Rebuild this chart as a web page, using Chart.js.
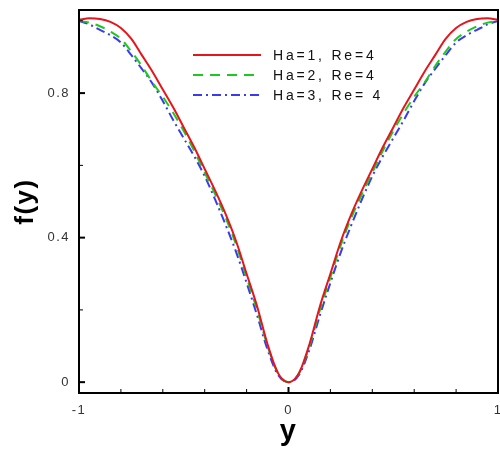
<!DOCTYPE html>
<html>
<head>
<meta charset="utf-8">
<script src="https://cdn.jsdelivr.net/npm/chart.js@4.4.1/dist/chart.umd.min.js"></script>
<style>
  html, body { margin: 0; padding: 0; background: #ffffff; }
  #wrap { width: 500px; height: 450px; }
</style>
</head>
<body>
<div id="wrap"><canvas id="c" width="500" height="450"></canvas></div>
<script>
// Transverse coordinate y across the channel
const yPos = [-1, -0.95, -0.9, -0.85, -0.8, -0.75, -0.7, -0.65, -0.6, -0.55, -0.5,
              -0.45, -0.4, -0.35, -0.3, -0.25, -0.2, -0.15, -0.1, -0.05, 0,
              0.05, 0.1, 0.15, 0.2, 0.25, 0.3, 0.35, 0.4, 0.45, 0.5,
              0.55, 0.6, 0.65, 0.7, 0.75, 0.8, 0.85, 0.9, 0.95, 1];

// Profiles f(y) for the three Hartmann numbers (Re = 4)
const fHa1 = [1.003, 1.007, 1.005, 0.997, 0.98, 0.95, 0.905, 0.86, 0.81, 0.76, 0.705,
              0.65, 0.59, 0.53, 0.465, 0.39, 0.30, 0.21, 0.105, 0.025, 0,
              0.025, 0.105, 0.21, 0.30, 0.39, 0.465, 0.53, 0.59, 0.65, 0.705,
              0.76, 0.81, 0.86, 0.905, 0.95, 0.98, 0.997, 1.005, 1.007, 1.003];
const fHa2 = [1.0, 0.995, 0.985, 0.97, 0.95, 0.915, 0.875, 0.83, 0.79, 0.745, 0.695,
              0.64, 0.58, 0.52, 0.455, 0.38, 0.29, 0.20, 0.10, 0.025, 0,
              0.025, 0.10, 0.20, 0.29, 0.38, 0.455, 0.52, 0.58, 0.64, 0.695,
              0.745, 0.79, 0.83, 0.875, 0.915, 0.95, 0.97, 0.985, 0.995, 1.0];
const fHa3 = [1.0, 0.99, 0.975, 0.96, 0.94, 0.905, 0.867, 0.827, 0.778, 0.725, 0.675,
              0.625, 0.57, 0.505, 0.435, 0.36, 0.275, 0.185, 0.09, 0.02, 0,
              0.02, 0.09, 0.185, 0.275, 0.36, 0.435, 0.505, 0.57, 0.625, 0.675,
              0.725, 0.778, 0.827, 0.867, 0.905, 0.94, 0.96, 0.975, 0.99, 1.0];

const seriesLabels = ['Ha=1, Re=4', 'Ha=2, Re=4', 'Ha=3, Re= 4'];

const xMajor = [-1, 0, 1];
const xMinor = [-0.8, -0.6, -0.4, -0.2, 0.2, 0.4, 0.6, 0.8];
const yMajor = [0, 0.4, 0.8];
const yMinor = [0.2, 0.6, 1.0];

const toPoints = (vals) => yPos.map((y, i) => ({ x: y, y: vals[i] }));

const FONT = '"Liberation Sans", Arial, sans-serif';

// Slightly spread lettering for the axis text
const spacingPlugin = {
  id: 'spacing',
  beforeDraw(chart) { chart.ctx.letterSpacing = '1.5px'; }
};

// Frame, inward ticks and the in-plot legend
const framePlugin = {
  id: 'frame',
  afterDraw(chart) {
    const { ctx, chartArea: a, scales } = chart;
    ctx.save();
    ctx.letterSpacing = '0px';
    ctx.strokeStyle = '#000';
    ctx.lineWidth = 2;
    ctx.strokeRect(a.left, a.top, a.right - a.left, a.bottom - a.top);

    const tick = (x1, y1, x2, y2, w) => {
      ctx.lineWidth = w;
      ctx.beginPath();
      ctx.moveTo(x1, y1);
      ctx.lineTo(x2, y2);
      ctx.stroke();
    };
    xMajor.forEach(v => { const px = scales.x.getPixelForValue(v); tick(px, a.bottom, px, a.bottom - 6, 2); });
    xMinor.forEach(v => { const px = scales.x.getPixelForValue(v); tick(px, a.bottom, px, a.bottom - 4, 1); });
    yMajor.forEach(v => { const py = scales.y.getPixelForValue(v); tick(a.left, py, a.left + 6, py, 2); });
    yMinor.forEach(v => { const py = scales.y.getPixelForValue(v); tick(a.left, py, a.left + 4, py, 1); });

    // legend
    const lx0 = 193, lx1 = 261, tx = 273;
    const rows = [55, 75, 95];
    ctx.font = '14px ' + FONT;
    ctx.textBaseline = 'middle';
    ctx.fillStyle = '#111';
    chart.data.datasets.forEach((ds, i) => {
      ctx.strokeStyle = ds.borderColor;
      ctx.lineWidth = ds.borderWidth;
      ctx.setLineDash(ds.borderDash || []);
      ctx.beginPath();
      ctx.moveTo(lx0, rows[i]);
      ctx.lineTo(lx1, rows[i]);
      ctx.stroke();
      ctx.setLineDash([]);
      ctx.letterSpacing = '2.8px';
      ctx.fillText(ds.label, tx, rows[i] + 1);
      ctx.letterSpacing = '0px';
    });
    ctx.restore();
  }
};

const noPad = (s) => { s.paddingTop = 0; s.paddingBottom = 0; s.paddingLeft = 0; s.paddingRight = 0; };

new Chart(document.getElementById('c'), {
  type: 'scatter',
  data: {
    datasets: [
      { label: seriesLabels[0], data: toPoints(fHa1), borderColor: '#e8141c', borderWidth: 2, showLine: true, pointRadius: 0, cubicInterpolationMode: 'monotone' },
      { label: seriesLabels[1], data: toPoints(fHa2), borderColor: '#1ec81e', borderWidth: 2, borderDash: [10, 7], showLine: true, pointRadius: 0, cubicInterpolationMode: 'monotone' },
      { label: seriesLabels[2], data: toPoints(fHa3), borderColor: '#3a3af0', borderWidth: 2, borderDash: [9, 4, 2, 4], showLine: true, pointRadius: 0, cubicInterpolationMode: 'monotone' }
    ]
  },
  options: {
    responsive: false,
    animation: false,
    devicePixelRatio: 1,
    layout: { autoPadding: false, padding: { top: 10, right: 2, left: 0, bottom: 0 } },
    plugins: { legend: { display: false }, tooltip: { enabled: false } },
    scales: {
      x: {
        type: 'linear', min: -1, max: 1,
        afterBuildTicks: (s) => { s.ticks = xMajor.map(v => ({ value: v })); },
        afterFit: (s) => { s.height = 57; noPad(s); },
        grid: { display: false, drawTicks: false },
        border: { display: false },
        ticks: { padding: 10, color: '#333', font: { family: FONT, size: 13 }, maxRotation: 0, autoSkip: false,
                 callback: (v) => String(v) },
        title: { display: true, text: 'y', color: '#000', font: { family: FONT, size: 29, weight: 'bold' }, padding: { top: 0, bottom: 1 } }
      },
      y: {
        type: 'linear', min: -0.03, max: 1.03,
        afterBuildTicks: (s) => { s.ticks = yMajor.map(v => ({ value: v })); },
        afterFit: (s) => { s.width = 79; noPad(s); },
        grid: { display: false, drawTicks: false },
        border: { display: false },
        ticks: { padding: 9, color: '#333', font: { family: FONT, size: 13 }, autoSkip: false,
                 callback: (v) => String(v) },
        title: { display: true, text: 'f(y)', color: '#000', font: { family: FONT, size: 26, weight: 'bold' }, padding: { top: 10, bottom: 0 } }
      }
    }
  },
  plugins: [spacingPlugin, framePlugin]
});
</script>
</body>
</html>
